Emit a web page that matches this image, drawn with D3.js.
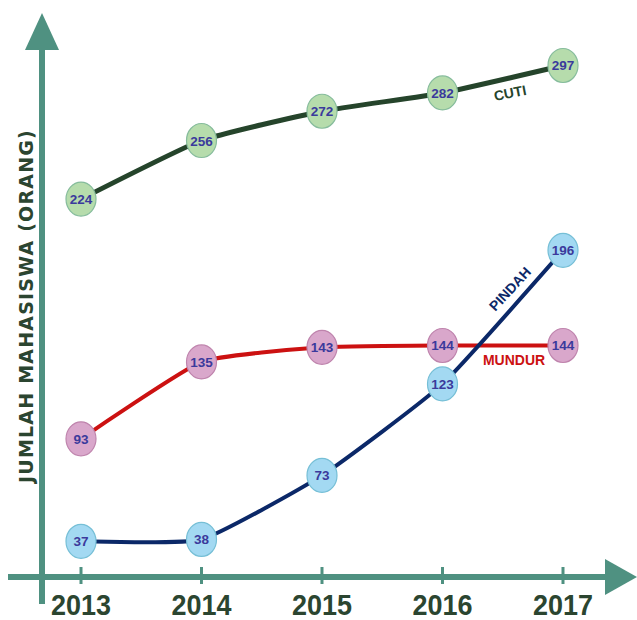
<!DOCTYPE html>
<html>
<head>
<meta charset="utf-8">
<script src="https://cdn.jsdelivr.net/npm/d3@7"></script>
<style>
  html, body { margin: 0; padding: 0; background: #ffffff; }
  svg { display: block; }
</style>
</head>
<body>
<svg id="chart" width="637" height="620"></svg>
<script>
// Student counts per year, by status
const years = [2013, 2014, 2015, 2016, 2017];
const cuti = [224, 256, 272, 282, 297];
const mundur = [93, 135, 143, 144, 144];
const pindah = [37, 38, 73, 123, 196];
const seriesNames = ["CUTI", "MUNDUR", "PINDAH"];
const yTitle = "JUMLAH MAHASISWA (ORANG)";

const series = [
  { name: seriesNames[0], values: cuti, line: "#25442b", width: 5, fill: "#b6dcac", stroke: "#86bc9c",
    label: { x: 510, y: 93, rot: -11 } },
  { name: seriesNames[1], values: mundur, line: "#cc1111", width: 4, fill: "#d9a7cb", stroke: "#bf84ad",
    label: { x: 514, y: 360, rot: 0 } },
  { name: seriesNames[2], values: pindah, line: "#0b2868", width: 4, fill: "#a3d9f2", stroke: "#76bfd6",
    label: { x: 510, y: 289, rot: -47 } }
];

const svg = d3.select("#chart");
const axisColor = "#4f9181";
const textDark = "#2b4530";

const x = d3.scalePoint().domain(years).range([81, 563]);
const y = d3.scaleLinear().domain([0, 300]).range([609, 60]);

// Axes: vertical with arrow on top, horizontal with arrow on the right
const axisY = 577;
svg.append("line")
  .attr("x1", 42).attr("x2", 42).attr("y1", 45).attr("y2", 604)
  .attr("stroke", axisColor).attr("stroke-width", 6);
svg.append("path")
  .attr("d", "M42,13 L59,50 L25,50 Z")
  .attr("fill", axisColor);
svg.append("line")
  .attr("x1", 8).attr("x2", 610).attr("y1", axisY).attr("y2", axisY)
  .attr("stroke", axisColor).attr("stroke-width", 6);
svg.append("path")
  .attr("d", `M637,${axisY} L605,${axisY - 18} L605,${axisY + 18} Z`)
  .attr("fill", axisColor);

// Year ticks and labels
const ticks = svg.append("g");
ticks.selectAll("line").data(years).join("line")
  .attr("x1", d => x(d)).attr("x2", d => x(d))
  .attr("y1", axisY - 10).attr("y2", axisY + 7)
  .attr("stroke", axisColor).attr("stroke-width", 3);
ticks.selectAll("text").data(years).join("text")
  .attr("transform", d => `translate(${x(d)},615) scale(0.93,1)`)
  .attr("text-anchor", "middle")
  .attr("font-family", "Liberation Sans, Arial, sans-serif")
  .attr("font-weight", "bold")
  .attr("font-size", 29)
  .attr("fill", textDark)
  .text(d => d);

// Y-axis title
svg.append("text")
  .attr("transform", "translate(33,306) rotate(-90)")
  .attr("text-anchor", "middle")
  .attr("font-family", "DejaVu Sans, Verdana, sans-serif")
  .attr("font-weight", "bold")
  .attr("font-size", 19)
  .attr("letter-spacing", 1.2)
  .attr("fill", textDark)
  .text(yTitle);

const lineGen = d3.line()
  .x((d, i) => x(years[i]))
  .y(d => y(d))
  .curve(d3.curveCardinal.tension(0.55));

// Lines first, then markers on top
series.forEach(s => {
  svg.append("path")
    .datum(s.values)
    .attr("d", lineGen)
    .attr("fill", "none")
    .attr("stroke", s.line)
    .attr("stroke-width", s.width)
    .attr("stroke-linecap", "round");
});

series.forEach(s => {
  const g = svg.append("g");
  const pts = s.values.map((v, i) => ({ year: years[i], v }));
  g.selectAll("ellipse").data(pts).join("ellipse")
    .attr("cx", d => x(d.year)).attr("cy", d => y(d.v))
    .attr("rx", 15).attr("ry", 17)
    .attr("fill", s.fill)
    .attr("stroke", s.stroke).attr("stroke-width", 1.2);
  g.selectAll("text").data(pts).join("text")
    .attr("x", d => x(d.year)).attr("y", d => y(d.v) + 5)
    .attr("text-anchor", "middle")
    .attr("font-family", "Liberation Sans, Arial, sans-serif")
    .attr("font-weight", "bold")
    .attr("font-size", 13.5)
    .attr("fill", "#3b3a9c")
    .text(d => d.v);

  svg.append("text")
    .attr("transform", `translate(${s.label.x},${s.label.y}) rotate(${s.label.rot})`)
    .attr("text-anchor", "middle")
    .attr("dy", "0.35em")
    .attr("font-family", "Liberation Sans, Arial, sans-serif")
    .attr("font-weight", "bold")
    .attr("font-size", 14)
    .attr("fill", s.line)
    .text(s.name);
});
</script>
</body>
</html>
